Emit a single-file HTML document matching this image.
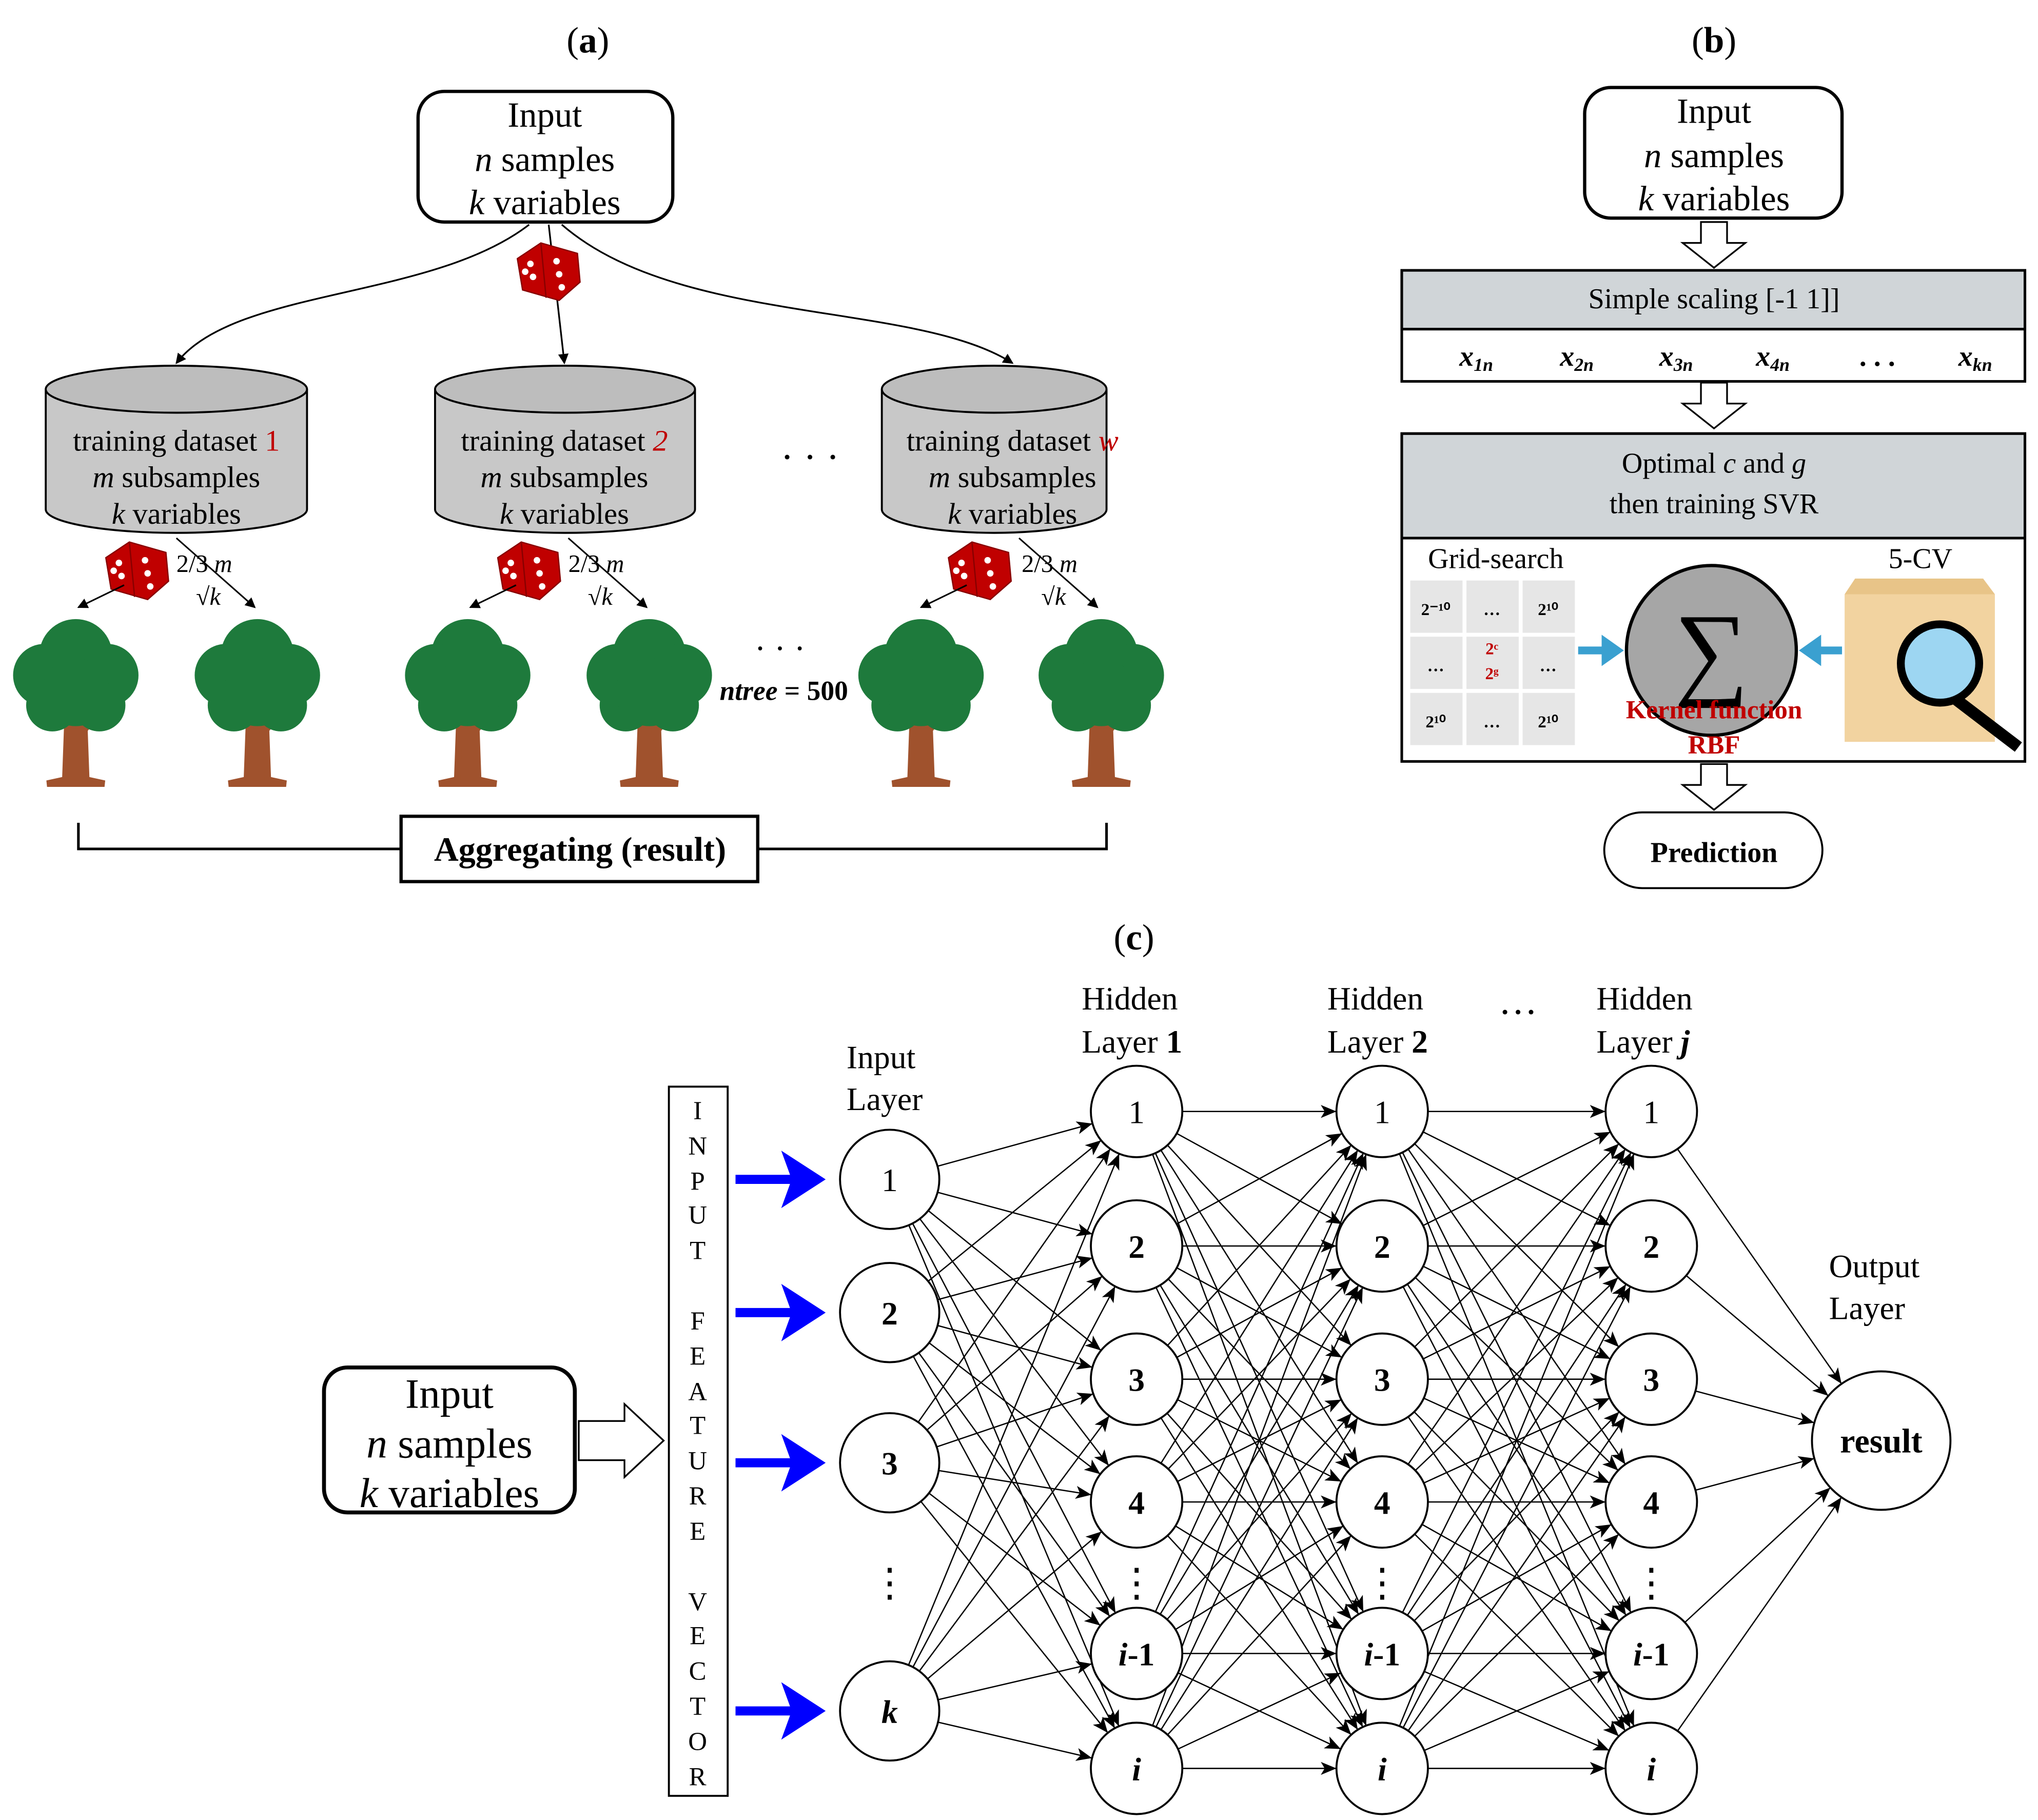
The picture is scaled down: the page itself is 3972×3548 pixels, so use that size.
<!DOCTYPE html>
<html><head><meta charset="utf-8"><style>
html,body{margin:0;padding:0;background:#fff}
svg{display:block}
text{font-family:"Liberation Serif",serif}
</style></head><body>
<svg width="3972" height="3548" viewBox="0 0 1560 1393.5" xmlns="http://www.w3.org/2000/svg">
<defs>
<marker id="ah" markerWidth="8" markerHeight="8" refX="7" refY="4" orient="auto" markerUnits="userSpaceOnUse"><path d="M0,0 L8,4 L0,8 Z" fill="#000"/></marker>
<marker id="mh" markerWidth="60" markerHeight="12" refX="47" refY="6" orient="auto" markerUnits="userSpaceOnUse" overflow="visible"><path d="M0,1 L12,6 L0,11 L3,6 Z" fill="#000"/></marker>
<marker id="mo" markerWidth="80" markerHeight="12" refX="65" refY="6" orient="auto" markerUnits="userSpaceOnUse" overflow="visible"><path d="M0,1 L12,6 L0,11 L3,6 Z" fill="#000"/></marker>
<g id="dice"><path d="M-24,-10 L-6,-22 L22,-14 L24,8 L8,22 L-20,14 Z" fill="#c00000" stroke="#800" stroke-width="1"/><path d="M-6,-22 L-2,20" stroke="#800" stroke-width="1"/><circle cx="-14" cy="-6" r="2.5" fill="#fff"/><circle cx="-12" cy="4" r="2.5" fill="#fff"/><circle cx="-18" cy="0" r="2.5" fill="#fff"/><circle cx="6" cy="-8" r="2.5" fill="#fff"/><circle cx="8" cy="2" r="2.5" fill="#fff"/><circle cx="10" cy="12" r="2.5" fill="#fff"/></g>
<g id="tree"><path d="M-6,30 L-8,85 L-22,88 L22,88 L8,85 L6,30 Z M0,50 L-18,30 M0,55 L16,35" fill="#a0522d" stroke="#a0522d" stroke-width="5"/><g fill="#1e7a3c"><circle cx="0" cy="-10" r="28"/><circle cx="-24" cy="5" r="24"/><circle cx="24" cy="5" r="24"/><circle cx="-18" cy="28" r="20"/><circle cx="18" cy="28" r="20"/><circle cx="0" cy="18" r="26"/></g></g>
</defs>
<!-- Panel a -->
<text x="450" y="40" font-size="28" text-anchor="middle" fill="#000">(<tspan font-weight="bold">a</tspan>)</text>
<rect x="320" y="70" width="195" height="100" rx="20" fill="#fff" stroke="#000" stroke-width="2.5"/>
<g font-size="27" text-anchor="middle" fill="#000"><text x="417" y="97">Input</text><text x="417" y="131"><tspan font-style="italic">n</tspan> samples</text><text x="417" y="164"><tspan font-style="italic">k</tspan> variables</text></g>
<g fill="none" stroke="#000" stroke-width="1.3">
<path d="M405,172 C330,230 180,220 135,278" marker-end="url(#ah)"/>
<path d="M420,172 L432,278" marker-end="url(#ah)"/>
<path d="M430,172 C520,250 700,230 775,278" marker-end="url(#ah)"/>
</g>
<use href="#dice" x="420" y="208"/>
<!-- cylinders -->
<g stroke="#000" stroke-width="1.5">
<path d="M35,298 L35,390 A100,18 0 0 0 235,390 L235,298" fill="#c8c8c8"/><ellipse cx="135" cy="298" rx="100" ry="18" fill="#bdbdbd"/>
<path d="M333,298 L333,390 A99.5,18 0 0 0 532,390 L532,298" fill="#c8c8c8"/><ellipse cx="432.5" cy="298" rx="99.5" ry="18" fill="#bdbdbd"/>
<path d="M675,298 L675,390 A86,18 0 0 0 847,390 L847,298" fill="#c8c8c8"/><ellipse cx="761" cy="298" rx="86" ry="18" fill="#bdbdbd"/>
</g>
<g font-size="23" text-anchor="middle" fill="#000">
<text x="135" y="345">training dataset <tspan fill="#c00000">1</tspan></text><text x="135" y="373"><tspan font-style="italic">m</tspan> subsamples</text><text x="135" y="401"><tspan font-style="italic">k</tspan> variables</text>
<text x="432" y="345">training dataset <tspan fill="#c00000" font-style="italic">2</tspan></text><text x="432" y="373"><tspan font-style="italic">m</tspan> subsamples</text><text x="432" y="401"><tspan font-style="italic">k</tspan> variables</text>
<text x="775" y="345">training dataset <tspan fill="#c00000" font-style="italic">w</tspan></text><text x="775" y="373"><tspan font-style="italic">m</tspan> subsamples</text><text x="775" y="401"><tspan font-style="italic">k</tspan> variables</text>
</g>
<text x="620" y="360" font-size="30" text-anchor="middle" fill="#000">· · ·</text>
<use href="#dice" x="105" y="437"/><use href="#dice" x="405" y="437"/><use href="#dice" x="750" y="437"/>
<g font-size="19" fill="#000"><text x="135" y="438">2/3 <tspan font-style="italic">m</tspan></text><text x="150" y="463">√<tspan font-style="italic">k</tspan></text>
<text x="435" y="438">2/3 <tspan font-style="italic">m</tspan></text><text x="450" y="463">√<tspan font-style="italic">k</tspan></text>
<text x="782" y="438">2/3 <tspan font-style="italic">m</tspan></text><text x="797" y="463">√<tspan font-style="italic">k</tspan></text></g>
<g stroke="#000" stroke-width="1.2" fill="none">
<path d="M95,448 L60,465" marker-end="url(#ah)"/><path d="M135,412 L195,465" marker-end="url(#ah)"/>
<path d="M395,448 L360,465" marker-end="url(#ah)"/><path d="M435,412 L495,465" marker-end="url(#ah)"/>
<path d="M740,448 L705,465" marker-end="url(#ah)"/><path d="M780,412 L840,465" marker-end="url(#ah)"/>
</g>
<use href="#tree" x="58" y="512"/><use href="#tree" x="197" y="512"/><use href="#tree" x="358" y="512"/><use href="#tree" x="497" y="512"/><use href="#tree" x="705" y="512"/><use href="#tree" x="843" y="512"/>
<text x="597" y="505" font-size="26" text-anchor="middle" fill="#000">· · ·</text>
<text x="600" y="536" font-size="21" text-anchor="middle" font-weight="bold" fill="#000"><tspan font-style="italic">ntree</tspan> = 500</text>
<path d="M60,630 L60,650 L847,650 L847,630" fill="none" stroke="#000" stroke-width="2"/>
<rect x="307" y="625" width="273" height="50" fill="#fff" stroke="#000" stroke-width="2.5"/>
<text x="444" y="659" font-size="26" font-weight="bold" text-anchor="middle" fill="#000">Aggregating (result)</text>
<!-- Panel b -->
<text x="1312" y="40" font-size="28" text-anchor="middle" fill="#000">(<tspan font-weight="bold">b</tspan>)</text>
<rect x="1213" y="67" width="197" height="100" rx="20" fill="#fff" stroke="#000" stroke-width="2.5"/>
<g font-size="27" text-anchor="middle" fill="#000"><text x="1312" y="94">Input</text><text x="1312" y="128"><tspan font-style="italic">n</tspan> samples</text><text x="1312" y="161"><tspan font-style="italic">k</tspan> variables</text></g>
<g fill="#fff" stroke="#000" stroke-width="1.3">
<path d="M1302,170 L1322,170 L1322,186 L1336,186 L1312,205 L1288,186 L1302,186 Z"/>
<path d="M1302,293 L1322,293 L1322,309 L1336,309 L1312,328 L1288,309 L1302,309 Z"/>
<path d="M1302,585 L1322,585 L1322,601 L1336,601 L1312,620 L1288,601 L1302,601 Z"/>
</g>
<rect x="1073" y="207" width="477" height="85" fill="#fff" stroke="#000" stroke-width="2"/>
<rect x="1073" y="207" width="477" height="45" fill="#d0d5d8" stroke="#000" stroke-width="2"/>
<text x="1312" y="236" font-size="22" text-anchor="middle" fill="#000">Simple scaling [-1 1]]</text>
<g font-size="22" font-weight="bold" font-style="italic" text-anchor="middle" fill="#000">
<text x="1130" y="280">x<tspan font-size="14" dy="4">1n</tspan></text><text x="1207" y="280">x<tspan font-size="14" dy="4">2n</tspan></text><text x="1283" y="280">x<tspan font-size="14" dy="4">3n</tspan></text><text x="1357" y="280">x<tspan font-size="14" dy="4">4n</tspan></text><text x="1437" y="280" font-style="normal">. . .</text><text x="1512" y="280">x<tspan font-size="14" dy="4">kn</tspan></text></g>
<rect x="1073" y="332" width="477" height="251" fill="#fff" stroke="#000" stroke-width="2"/>
<rect x="1073" y="332" width="477" height="80" fill="#d0d5d8" stroke="#000" stroke-width="2"/>
<g font-size="22" text-anchor="middle" fill="#000"><text x="1312" y="362">Optimal <tspan font-style="italic">c</tspan> and <tspan font-style="italic">g</tspan></text><text x="1312" y="393">then training SVR</text>
<text x="1145" y="435">Grid-search</text><text x="1470" y="435">5-CV</text></g>
<g fill="#e6e6e6" stroke="#fff">
<rect x="1079" y="444" width="41" height="41"/><rect x="1122" y="444" width="41" height="41"/><rect x="1165" y="444" width="41" height="41"/>
<rect x="1079" y="487" width="41" height="41"/><rect x="1122" y="487" width="41" height="41"/><rect x="1165" y="487" width="41" height="41"/>
<rect x="1079" y="530" width="41" height="41"/><rect x="1122" y="530" width="41" height="41"/><rect x="1165" y="530" width="41" height="41"/>
</g>
<g font-size="13" font-weight="bold" text-anchor="middle" fill="#000">
<text x="1099" y="471">2⁻¹⁰</text><text x="1142" y="471">…</text><text x="1185" y="471">2¹⁰</text>
<text x="1099" y="514">…</text><text x="1185" y="514">…</text>
<text x="1099" y="557">2¹⁰</text><text x="1142" y="557">…</text><text x="1185" y="557">2¹⁰</text>
<text x="1142" y="501" fill="#c00000">2ᶜ</text><text x="1142" y="520" fill="#c00000">2ᵍ</text></g>
<circle cx="1310" cy="498" r="65" fill="#a6a6a6" stroke="#000" stroke-width="2.5"/>
<text x="1310" y="525" font-size="80" text-anchor="middle" fill="#000" font-family="DejaVu Sans">∑</text>
<g font-size="20" font-weight="bold" text-anchor="middle" fill="#c00000"><text x="1312" y="550">Kernel function</text><text x="1312" y="577">RBF</text></g>
<path d="M1208,498 L1230,498" stroke="#3aa0d0" stroke-width="6"/><path d="M1226,486 L1243,498 L1226,510 Z" fill="#3aa0d0"/>
<path d="M1410,498 L1390,498" stroke="#3aa0d0" stroke-width="6"/><path d="M1394,486 L1377,498 L1394,510 Z" fill="#3aa0d0"/>
<rect x="1412" y="455" width="115" height="113" fill="#f2d3a0"/><path d="M1420,443 L1518,443 L1527,455 L1412,455 Z" fill="#e8c488"/>
<path d="M1490,530 L1545,572" stroke="#000" stroke-width="9"/>
<circle cx="1485" cy="508" r="30" fill="#9dd6f2" stroke="#000" stroke-width="6"/>
<rect x="1228" y="622" width="167" height="58" rx="29" fill="#fff" stroke="#000" stroke-width="1.5"/>
<text x="1312" y="660" font-size="22" font-weight="bold" text-anchor="middle" fill="#000">Prediction</text>
<!-- Panel c -->
<text x="868" y="727" font-size="28" text-anchor="middle" fill="#000">(<tspan font-weight="bold">c</tspan>)</text>
<rect x="248" y="1047" width="192" height="111" rx="18" fill="#fff" stroke="#000" stroke-width="3"/>
<g font-size="32" text-anchor="middle" fill="#000"><text x="344" y="1078">Input</text><text x="344" y="1116"><tspan font-style="italic">n</tspan> samples</text><text x="344" y="1154"><tspan font-style="italic">k</tspan> variables</text></g>
<path d="M443,1088 L478,1088 L478,1075 L508,1103 L478,1131 L478,1118 L443,1118 Z" fill="#fff" stroke="#000" stroke-width="1.3"/>
<rect x="512" y="832" width="45" height="543" fill="#fff" stroke="#000" stroke-width="1.5"/>
<g font-size="20" text-anchor="middle" fill="#000">
<text x="534" y="857">I</text><text x="534" y="884">N</text><text x="534" y="911">P</text><text x="534" y="937">U</text><text x="534" y="964">T</text>
<text x="534" y="1018">F</text><text x="534" y="1045">E</text><text x="534" y="1072">A</text><text x="534" y="1098">T</text><text x="534" y="1125">U</text><text x="534" y="1152">R</text><text x="534" y="1179">E</text>
<text x="534" y="1233">V</text><text x="534" y="1259">E</text><text x="534" y="1286">C</text><text x="534" y="1313">T</text><text x="534" y="1340">O</text><text x="534" y="1367">R</text>
</g>
<!-- connections -->
<g stroke="#000" stroke-width="1" marker-end="url(#mh)">
<line x1="681" y1="903" x2="870" y2="851"/><line x1="681" y1="903" x2="870" y2="954"/><line x1="681" y1="903" x2="870" y2="1056"/><line x1="681" y1="903" x2="870" y2="1150"/><line x1="681" y1="903" x2="870" y2="1266"/><line x1="681" y1="903" x2="870" y2="1354"/>
<line x1="681" y1="1005" x2="870" y2="851"/><line x1="681" y1="1005" x2="870" y2="954"/><line x1="681" y1="1005" x2="870" y2="1056"/><line x1="681" y1="1005" x2="870" y2="1150"/><line x1="681" y1="1005" x2="870" y2="1266"/><line x1="681" y1="1005" x2="870" y2="1354"/>
<line x1="681" y1="1120" x2="870" y2="851"/><line x1="681" y1="1120" x2="870" y2="954"/><line x1="681" y1="1120" x2="870" y2="1056"/><line x1="681" y1="1120" x2="870" y2="1150"/><line x1="681" y1="1120" x2="870" y2="1266"/><line x1="681" y1="1120" x2="870" y2="1354"/>
<line x1="681" y1="1310" x2="870" y2="851"/><line x1="681" y1="1310" x2="870" y2="954"/><line x1="681" y1="1310" x2="870" y2="1056"/><line x1="681" y1="1310" x2="870" y2="1150"/><line x1="681" y1="1310" x2="870" y2="1266"/><line x1="681" y1="1310" x2="870" y2="1354"/>

<line x1="870" y1="851" x2="1058" y2="851"/><line x1="870" y1="851" x2="1058" y2="954"/><line x1="870" y1="851" x2="1058" y2="1056"/><line x1="870" y1="851" x2="1058" y2="1150"/><line x1="870" y1="851" x2="1058" y2="1266"/><line x1="870" y1="851" x2="1058" y2="1354"/>
<line x1="870" y1="954" x2="1058" y2="851"/><line x1="870" y1="954" x2="1058" y2="954"/><line x1="870" y1="954" x2="1058" y2="1056"/><line x1="870" y1="954" x2="1058" y2="1150"/><line x1="870" y1="954" x2="1058" y2="1266"/><line x1="870" y1="954" x2="1058" y2="1354"/>
<line x1="870" y1="1056" x2="1058" y2="851"/><line x1="870" y1="1056" x2="1058" y2="954"/><line x1="870" y1="1056" x2="1058" y2="1056"/><line x1="870" y1="1056" x2="1058" y2="1150"/><line x1="870" y1="1056" x2="1058" y2="1266"/><line x1="870" y1="1056" x2="1058" y2="1354"/>
<line x1="870" y1="1150" x2="1058" y2="851"/><line x1="870" y1="1150" x2="1058" y2="954"/><line x1="870" y1="1150" x2="1058" y2="1056"/><line x1="870" y1="1150" x2="1058" y2="1150"/><line x1="870" y1="1150" x2="1058" y2="1266"/><line x1="870" y1="1150" x2="1058" y2="1354"/>
<line x1="870" y1="1266" x2="1058" y2="851"/><line x1="870" y1="1266" x2="1058" y2="954"/><line x1="870" y1="1266" x2="1058" y2="1056"/><line x1="870" y1="1266" x2="1058" y2="1150"/><line x1="870" y1="1266" x2="1058" y2="1266"/><line x1="870" y1="1266" x2="1058" y2="1354"/>
<line x1="870" y1="1354" x2="1058" y2="851"/><line x1="870" y1="1354" x2="1058" y2="954"/><line x1="870" y1="1354" x2="1058" y2="1056"/><line x1="870" y1="1354" x2="1058" y2="1150"/><line x1="870" y1="1354" x2="1058" y2="1266"/><line x1="870" y1="1354" x2="1058" y2="1354"/>

<line x1="1058" y1="851" x2="1264" y2="851"/><line x1="1058" y1="851" x2="1264" y2="954"/><line x1="1058" y1="851" x2="1264" y2="1056"/><line x1="1058" y1="851" x2="1264" y2="1150"/><line x1="1058" y1="851" x2="1264" y2="1266"/><line x1="1058" y1="851" x2="1264" y2="1354"/>
<line x1="1058" y1="954" x2="1264" y2="851"/><line x1="1058" y1="954" x2="1264" y2="954"/><line x1="1058" y1="954" x2="1264" y2="1056"/><line x1="1058" y1="954" x2="1264" y2="1150"/><line x1="1058" y1="954" x2="1264" y2="1266"/><line x1="1058" y1="954" x2="1264" y2="1354"/>
<line x1="1058" y1="1056" x2="1264" y2="851"/><line x1="1058" y1="1056" x2="1264" y2="954"/><line x1="1058" y1="1056" x2="1264" y2="1056"/><line x1="1058" y1="1056" x2="1264" y2="1150"/><line x1="1058" y1="1056" x2="1264" y2="1266"/><line x1="1058" y1="1056" x2="1264" y2="1354"/>
<line x1="1058" y1="1150" x2="1264" y2="851"/><line x1="1058" y1="1150" x2="1264" y2="954"/><line x1="1058" y1="1150" x2="1264" y2="1056"/><line x1="1058" y1="1150" x2="1264" y2="1150"/><line x1="1058" y1="1150" x2="1264" y2="1266"/><line x1="1058" y1="1150" x2="1264" y2="1354"/>
<line x1="1058" y1="1266" x2="1264" y2="851"/><line x1="1058" y1="1266" x2="1264" y2="954"/><line x1="1058" y1="1266" x2="1264" y2="1056"/><line x1="1058" y1="1266" x2="1264" y2="1150"/><line x1="1058" y1="1266" x2="1264" y2="1266"/><line x1="1058" y1="1266" x2="1264" y2="1354"/>
<line x1="1058" y1="1354" x2="1264" y2="851"/><line x1="1058" y1="1354" x2="1264" y2="954"/><line x1="1058" y1="1354" x2="1264" y2="1056"/><line x1="1058" y1="1354" x2="1264" y2="1150"/><line x1="1058" y1="1354" x2="1264" y2="1266"/><line x1="1058" y1="1354" x2="1264" y2="1354"/>
</g>
<g stroke="#000" stroke-width="1" marker-end="url(#mo)">
<line x1="1264" y1="851" x2="1440" y2="1103"/><line x1="1264" y1="954" x2="1440" y2="1103"/><line x1="1264" y1="1056" x2="1440" y2="1103"/><line x1="1264" y1="1150" x2="1440" y2="1103"/><line x1="1264" y1="1266" x2="1440" y2="1103"/><line x1="1264" y1="1354" x2="1440" y2="1103"/>
</g>
<!-- blue arrows -->
<g stroke="#0000ff" stroke-width="7"><path d="M563,903 L612,903"/><path d="M563,1005 L612,1005"/><path d="M563,1120 L612,1120"/><path d="M563,1310 L612,1310"/></g>
<g fill="#0000ff"><path d="M598,881 L632,903 L598,925 L606,903 Z"/><path d="M598,983 L632,1005 L598,1027 L606,1005 Z"/><path d="M598,1098 L632,1120 L598,1142 L606,1120 Z"/><path d="M598,1288 L632,1310 L598,1332 L606,1310 Z"/></g>
<!-- nodes -->
<g fill="#fff" stroke="#000" stroke-width="1.5">
<circle cx="681" cy="903" r="38"/><circle cx="681" cy="1005" r="38"/><circle cx="681" cy="1120" r="38"/><circle cx="681" cy="1310" r="38"/>
<circle cx="870" cy="851" r="35"/><circle cx="870" cy="954" r="35"/><circle cx="870" cy="1056" r="35"/><circle cx="870" cy="1150" r="35"/><circle cx="870" cy="1266" r="35"/><circle cx="870" cy="1354" r="35"/>
<circle cx="1058" cy="851" r="35"/><circle cx="1058" cy="954" r="35"/><circle cx="1058" cy="1056" r="35"/><circle cx="1058" cy="1150" r="35"/><circle cx="1058" cy="1266" r="35"/><circle cx="1058" cy="1354" r="35"/>
<circle cx="1264" cy="851" r="35"/><circle cx="1264" cy="954" r="35"/><circle cx="1264" cy="1056" r="35"/><circle cx="1264" cy="1150" r="35"/><circle cx="1264" cy="1266" r="35"/><circle cx="1264" cy="1354" r="35"/>
<circle cx="1440" cy="1103" r="53"/>
</g>
<g font-size="25" text-anchor="middle" fill="#000">
<text x="681" y="912">1</text><text x="681" y="1014" font-weight="bold">2</text><text x="681" y="1129" font-weight="bold">3</text><text x="681" y="1319" font-weight="bold" font-style="italic">k</text>
<text x="870" y="860">1</text><text x="870" y="963" font-weight="bold">2</text><text x="870" y="1065" font-weight="bold">3</text><text x="870" y="1159" font-weight="bold">4</text><text x="870" y="1275" font-weight="bold"><tspan font-style="italic">i</tspan>-1</text><text x="870" y="1363" font-weight="bold" font-style="italic">i</text>
<text x="1058" y="860">1</text><text x="1058" y="963" font-weight="bold">2</text><text x="1058" y="1065" font-weight="bold">3</text><text x="1058" y="1159" font-weight="bold">4</text><text x="1058" y="1275" font-weight="bold"><tspan font-style="italic">i</tspan>-1</text><text x="1058" y="1363" font-weight="bold" font-style="italic">i</text>
<text x="1264" y="860">1</text><text x="1264" y="963" font-weight="bold">2</text><text x="1264" y="1065" font-weight="bold">3</text><text x="1264" y="1159" font-weight="bold">4</text><text x="1264" y="1275" font-weight="bold"><tspan font-style="italic">i</tspan>-1</text><text x="1264" y="1363" font-weight="bold" font-style="italic">i</text>
<text x="1440" y="1112" font-size="26" font-weight="bold">result</text>
<text x="681" y="1222" font-size="30">⋮</text><text x="870" y="1222" font-size="30">⋮</text><text x="1058" y="1222" font-size="30">⋮</text><text x="1264" y="1222" font-size="30">⋮</text>
</g>
<g font-size="25" fill="#000"><text x="648" y="818">Input</text><text x="648" y="850">Layer</text>
<text x="828" y="773">Hidden</text><text x="828" y="806">Layer <tspan font-weight="bold">1</tspan></text>
<text x="1016" y="773">Hidden</text><text x="1016" y="806">Layer <tspan font-weight="bold">2</tspan></text>
<text x="1222" y="773">Hidden</text><text x="1222" y="806">Layer <tspan font-weight="bold" font-style="italic">j</tspan></text>
<text x="1400" y="978">Output</text><text x="1400" y="1010">Layer</text>
<text x="1147" y="785" font-size="30">···</text></g>
</svg>
</body></html>
